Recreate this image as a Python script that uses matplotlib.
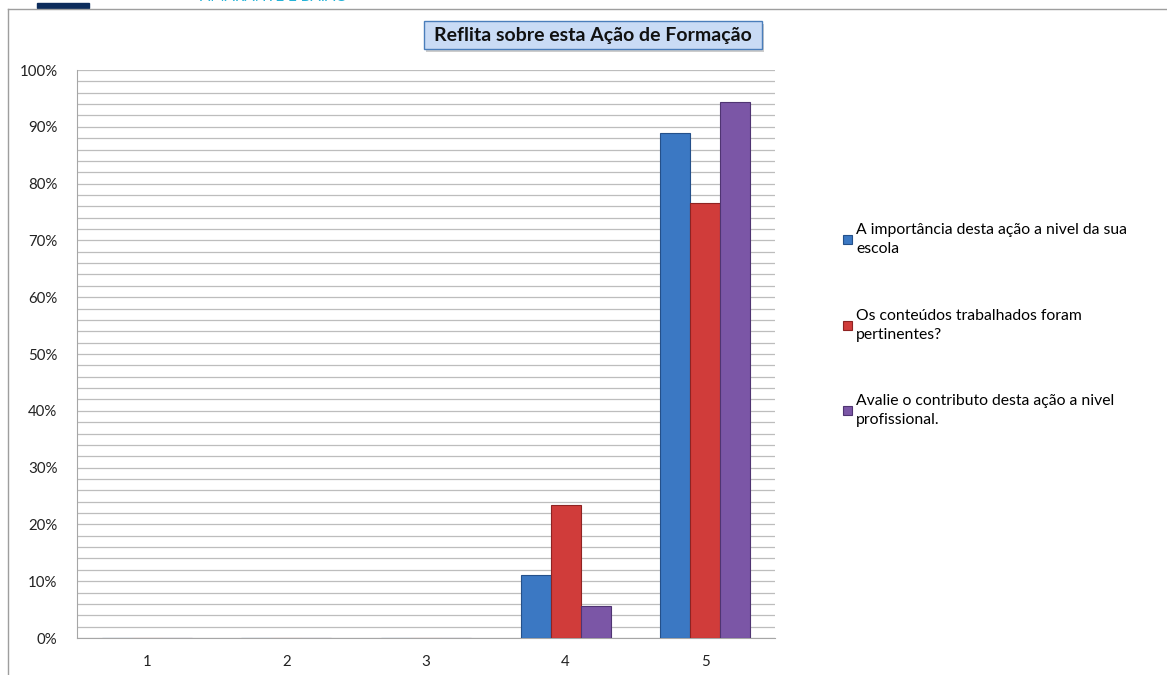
import matplotlib.pyplot as plt
import numpy as np
from matplotlib.patches import FancyBboxPatch, Rectangle

# data (share of answers per scale level)
categories = ["1", "2", "3", "4", "5"]
series_names = ["A importância desta ação a nivel da sua\nescola",
                "Os conteúdos trabalhados foram\npertinentes?",
                "Avalie o contributo desta ação a nivel\nprofissional."]
importancia = [0, 0, 0, 11.1, 88.9]
conteudos = [0, 0, 0, 23.5, 76.5]
contributo = [0, 0, 0, 5.6, 94.4]
yticks = list(range(0, 101, 10))
ytick_labels = [f"{t}%" for t in yticks]

colors = ["#3b78c3", "#d03c3a", "#7b56a6"]
edges = ["#24508a", "#8e2322", "#4f3472"]

plt.rcParams['font.family'] = ['Lato', 'DejaVu Sans']

fig = plt.figure(figsize=(11.67, 6.75), dpi=100)
ax = fig.add_axes([77/1167, 1 - 638/675, (775-77)/1167, (638-70)/675])

x = np.arange(len(categories))
w = 0.215
for i, vals in enumerate([importancia, conteudos, contributo]):
    ax.bar(x + (i - 1) * w, vals, width=w, color=colors[i], edgecolor=edges[i],
           linewidth=0.8, label=series_names[i], zorder=3)

ax.set_xlim(-0.5, len(categories) - 0.5)
ax.set_ylim(0, 100)
ax.set_yticks(yticks)
ax.set_yticklabels(ytick_labels)
ax.set_yticks(np.arange(0, 101, 2), minor=True)
ax.set_xticks(x)
ax.set_xticklabels(categories)
ax.grid(axis='y', which='both', color='#bdbdbd', linewidth=0.9, zorder=0)
ax.tick_params(axis='both', which='both', length=0, labelsize=10.8, colors='#222222')
ax.tick_params(axis='y', pad=14)
ax.tick_params(axis='x', pad=12)
for s in ['top', 'right']:
    ax.spines[s].set_visible(False)
for s in ['left', 'bottom']:
    ax.spines[s].set_color('#a6a6a6')

leg = ax.legend(loc='upper left', bbox_to_anchor=(1.077, 0.755), frameon=False,
                fontsize=11.3, handlelength=0.55, handleheight=0.55, handletextpad=0.3,
                labelspacing=3.35)
for t in leg.get_texts():
    t.set_linespacing(1.45)

# chart area border (only top and left visible in the crop)
fig.add_artist(plt.Line2D([8/1167, 1], [1 - 9/675, 1 - 9/675], color='#9e9e9e', lw=1))
fig.add_artist(plt.Line2D([8/1167, 8/1167], [0, 1 - 9/675], color='#9e9e9e', lw=1))

# clipped logo fragment at the very top
fig.add_artist(Rectangle((37/1167, 1 - 8/675), 52/1167, 5/675, color='#0d2d5c'))
fig.text(200/1167, 1 + 3/675, "AMARANTE E BAIÃO", color='#25b3d8', fontsize=11,
         ha='left', va='center')

# title box with a soft shadow
fig.add_artist(Rectangle((426/1167, 1 - 52/675), 338/1167, 28/675,
                         facecolor='#9a9a9a', edgecolor='none', alpha=0.5))
fig.add_artist(FancyBboxPatch((424/1167, 1 - 49/675), 338/1167, 28/675,
                              boxstyle="square,pad=0", facecolor='#c9dbf5',
                              edgecolor='#4a7ebb', lw=1))
fig.text(593/1167, 1 - 35/675, "Reflita sobre esta Ação de Formação", ha='center',
         va='center', fontsize=14, fontweight='bold', color='#111111')

fig.savefig("out.png", dpi=100)
